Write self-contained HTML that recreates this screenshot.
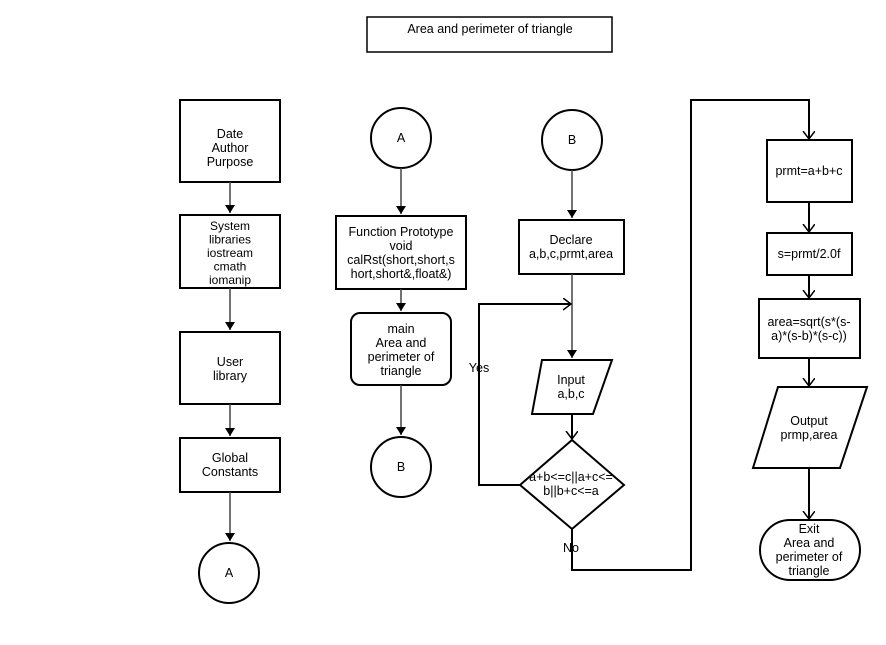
<!DOCTYPE html>
<html><head><style>body{margin:0;background:#fff}</style></head><body>
<svg width="886" height="640" xmlns="http://www.w3.org/2000/svg" font-family="Liberation Sans, Arial, sans-serif" font-size="12.5" text-anchor="middle">
<defs><marker id="a" markerWidth="12" markerHeight="14" refX="8" refY="6" orient="auto" markerUnits="userSpaceOnUse"><path d="M0,0 L8,6 L0,12" fill="none" stroke="#000" stroke-width="1.5"/></marker>
<marker id="b" markerWidth="10" markerHeight="10" refX="8" refY="5" orient="auto" markerUnits="userSpaceOnUse"><path d="M0,0 L8,5 L0,10 Z" fill="#000"/></marker></defs>
<g fill="none" stroke="#000" stroke-width="2">
<rect x="367" y="17" width="245" height="35" stroke-width="1.5"/>
<rect x="180" y="100" width="100" height="82"/>
<rect x="180" y="215" width="100" height="73"/>
<rect x="180" y="332" width="100" height="72"/>
<rect x="180" y="438" width="100" height="54"/>
<circle cx="229" cy="573" r="30"/>
<circle cx="401" cy="138" r="30"/>
<rect x="336" y="216" width="130" height="73"/>
<rect x="351" y="313" width="100" height="72" rx="9"/>
<circle cx="401" cy="467" r="30"/>
<circle cx="572" cy="140" r="30"/>
<rect x="519" y="220" width="105" height="54"/>
<path d="M542,360 L612,360 L593,414 L532,414 Z"/>
<path d="M572,440 L624,485 L572,529 L520,485 Z"/>
<rect x="767" y="140" width="85" height="62"/>
<rect x="767" y="233" width="85" height="42"/>
<rect x="759" y="299" width="101" height="59"/>
<path d="M778,387 L867,387 L840,468 L753,468 Z"/>
<rect x="760" y="520" width="100" height="60" rx="30"/>
</g>
<g fill="none" stroke="#444" stroke-width="1.5">
<line x1="230" y1="182" x2="230" y2="213" marker-end="url(#b)"/>
<line x1="230" y1="288" x2="230" y2="330" marker-end="url(#b)"/>
<line x1="230" y1="404" x2="230" y2="436" marker-end="url(#b)"/>
<line x1="230" y1="492" x2="230" y2="541" marker-end="url(#b)"/>
<line x1="401" y1="168" x2="401" y2="214" marker-end="url(#b)"/>
<line x1="401" y1="289" x2="401" y2="311" marker-end="url(#b)"/>
<line x1="401" y1="385" x2="401" y2="435" marker-end="url(#b)"/>
<line x1="572" y1="170" x2="572" y2="218" marker-end="url(#b)"/>
<line x1="572" y1="274" x2="572" y2="358" marker-end="url(#b)"/>
</g>
<g fill="none" stroke="#000" stroke-width="2">
<line x1="572" y1="414" x2="572" y2="439" marker-end="url(#a)"/>
<polyline points="520,485 479,485 479,304 571,304" marker-end="url(#a)"/>
<polyline points="572,529 572,570 691,570 691,100 809,100 809,139" marker-end="url(#a)"/>
<line x1="809" y1="202" x2="809" y2="232" marker-end="url(#a)"/>
<line x1="809" y1="275" x2="809" y2="298" marker-end="url(#a)"/>
<line x1="809" y1="358" x2="809" y2="386" marker-end="url(#a)"/>
<line x1="809" y1="468" x2="809" y2="519" marker-end="url(#a)"/>
</g>
<g fill="#000">
<text x="490" y="33">Area and perimeter of triangle</text>
<text x="230" y="138">Date</text><text x="230" y="152">Author</text><text x="230" y="166">Purpose</text>
<g font-size="12"><text x="230" y="230">System</text><text x="230" y="243.5">libraries</text><text x="230" y="257">iostream</text><text x="230" y="270.5">cmath</text><text x="230" y="284">iomanip</text></g>
<text x="230" y="366">User</text><text x="230" y="380">library</text>
<text x="230" y="462">Global</text><text x="230" y="476">Constants</text>
<text x="229" y="577">A</text>
<text x="401" y="142">A</text>
<text x="401" y="236">Function Prototype</text><text x="401" y="250">void</text><text x="401" y="264">calRst(short,short,s</text><text x="401" y="278">hort,short&amp;,float&amp;)</text>
<text x="401" y="333">main</text><text x="401" y="347">Area and</text><text x="401" y="361">perimeter of</text><text x="401" y="375">triangle</text>
<text x="401" y="471">B</text>
<text x="572" y="144">B</text>
<text x="571" y="244">Declare</text><text x="571" y="258">a,b,c,prmt,area</text>
<text x="571" y="384">Input</text><text x="571" y="398">a,b,c</text>
<text x="571" y="481">a+b&lt;=c||a+c&lt;=</text><text x="571" y="495">b||b+c&lt;=a</text>
<text x="479" y="372">Yes</text>
<text x="571" y="552">No</text>
<text x="809" y="175">prmt=a+b+c</text>
<text x="809" y="258">s=prmt/2.0f</text>
<text x="809" y="326">area=sqrt(s*(s-</text><text x="809" y="340">a)*(s-b)*(s-c))</text>
<text x="809" y="425">Output</text><text x="809" y="439">prmp,area</text>
<text x="809" y="533">Exit</text><text x="809" y="547">Area and</text><text x="809" y="561">perimeter of</text><text x="809" y="575">triangle</text>
</g>
</svg>
</body></html>
